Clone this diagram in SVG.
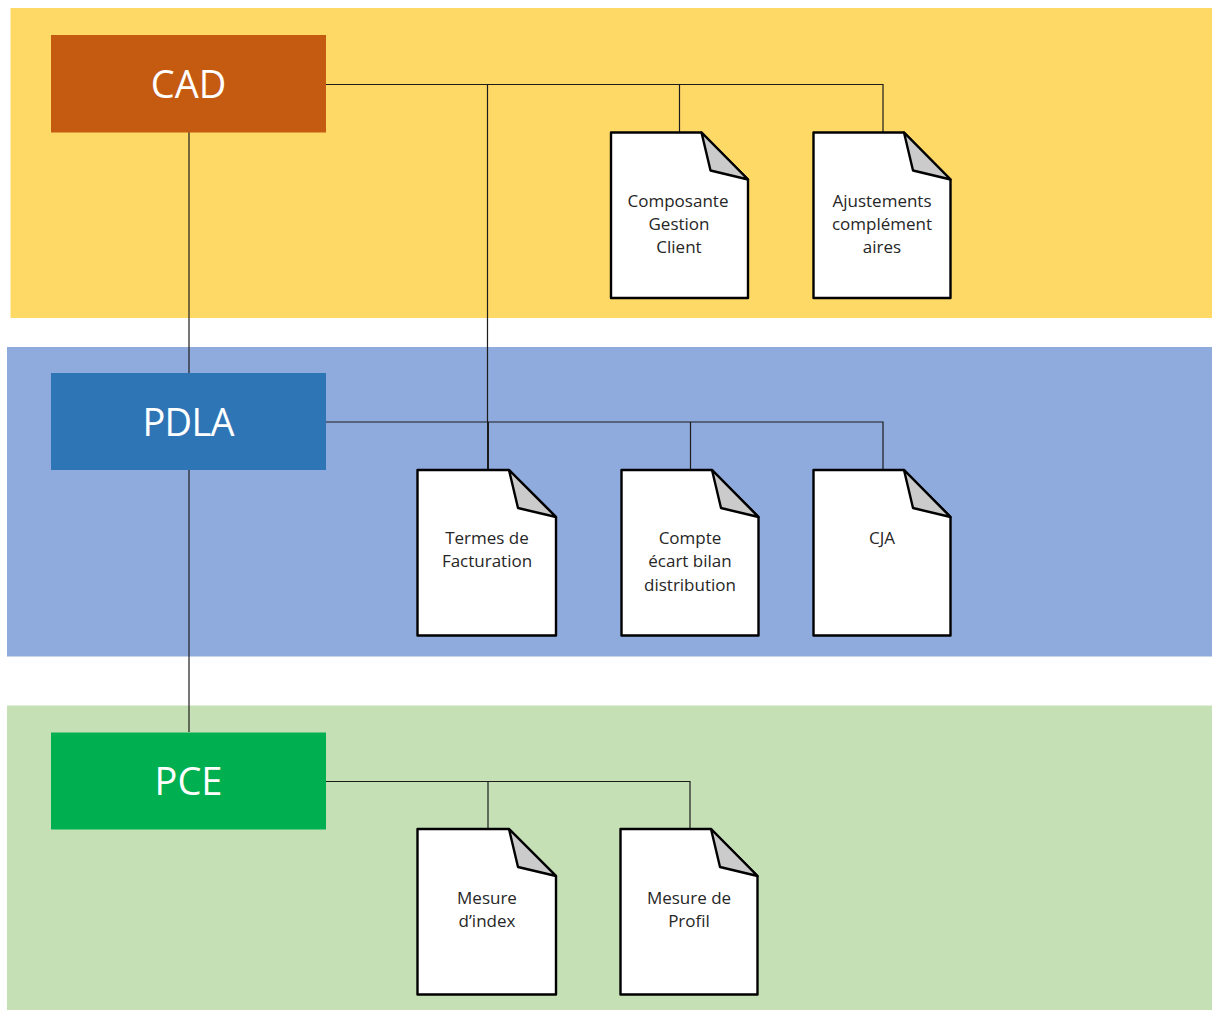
<svg xmlns="http://www.w3.org/2000/svg" width="1212" height="1010" viewBox="0 0 1212 1010">
<style>
.t{font-family:"Open Sans","Liberation Sans",sans-serif;font-size:17px;fill:#262626;text-anchor:middle}
.h{font-family:"Open Sans","Liberation Sans",sans-serif;font-size:38px;fill:#fff;text-anchor:middle}
.c{fill:none;stroke:#1c1c1c;stroke-width:1.2}
.b{stroke-width:2}
.d{fill:#fff;stroke:#000;stroke-width:2.4;stroke-linejoin:round}
.f{fill:#cbcbcb;stroke:#000;stroke-width:2.4;stroke-linejoin:round}
</style>
<defs>
<g id="doc">
<path class="d" d="M0.500 0H91L137.500 47V165.500H0.500Z"/>
<path class="f" d="M91 0L100 38L137.500 47Z"/>
</g>
<g id="doc-wide">
<path class="d" d="M0 0H91.500L138.500 47V165.500H0Z"/>
<path class="f" d="M91.500 0L100.500 38L138.500 47Z"/>
</g>
</defs>
<rect x="0" y="0" width="1212" height="1010" fill="#fff"/>
<rect id="band-cad" x="10.500" y="8" width="1201.500" height="310" fill="#ffd966"/>
<rect id="band-pdla" x="7" y="347" width="1205" height="309.500" fill="#8faadc"/>
<rect id="band-pce" x="7" y="705.500" width="1205" height="304.500" fill="#c5e0b4"/>
<g id="connectors">
<path class="c" d="M326 84.500H883V132"/>
<path class="c" d="M679.500 84.500V132"/>
<path class="c" d="M487.500 84.500V422"/>
<path class="c" d="M189 132V373"/>
<path class="c" d="M326 422H883V470"/>
<path class="c" d="M690.500 422V470"/>
<path class="c b" d="M488 422V470"/>
<path class="c" d="M189 470V732"/>
<path class="c" d="M326 781.500H690V829"/>
<path class="c" d="M488 781.500V829"/>
</g>
<g id="cad"><rect x="51" y="35" width="275" height="97.500" fill="#c55a11"/><text class="h" x="188.500" y="97.500">CAD</text></g>
<g id="pdla"><rect x="51" y="373" width="275" height="97" fill="#2e75b6"/><text class="h" x="188.500" y="435.500" textLength="92" lengthAdjust="spacing">PDLA</text></g>
<g id="pce"><rect x="51" y="732.500" width="275" height="97" fill="#00b050"/><text class="h" x="188.500" y="794.500">PCE</text></g>
<g id="doc-composante"><use href="#doc" x="610.500" y="132.500"/><text class="t" x="678" y="207">Composante</text><text class="t" x="679" y="230">Gestion</text><text class="t" x="679" y="253">Client</text></g>
<g id="doc-ajustements"><use href="#doc" x="813" y="132.500"/><text class="t" x="882" y="207">Ajustements</text><text class="t" x="882" y="230">complément</text><text class="t" x="882" y="253">aires</text></g>
<g id="doc-termes"><use href="#doc-wide" x="417.500" y="470"/><text class="t" x="487" y="544">Termes de</text><text class="t" x="487" y="567">Facturation</text></g>
<g id="doc-compte"><use href="#doc" x="621" y="470"/><text class="t" x="690" y="544">Compte</text><text class="t" x="690" y="567">écart bilan</text><text class="t" x="690" y="590.500">distribution</text></g>
<g id="doc-cja"><use href="#doc" x="813" y="470"/><text class="t" x="882" y="544">CJA</text></g>
<g id="doc-index"><use href="#doc-wide" x="417.500" y="829"/><text class="t" x="487" y="904">Mesure</text><text class="t" x="487" y="927">d’index</text></g>
<g id="doc-profil"><use href="#doc" x="620" y="829"/><text class="t" x="689" y="904">Mesure de</text><text class="t" x="689" y="927">Profil</text></g>
</svg>
